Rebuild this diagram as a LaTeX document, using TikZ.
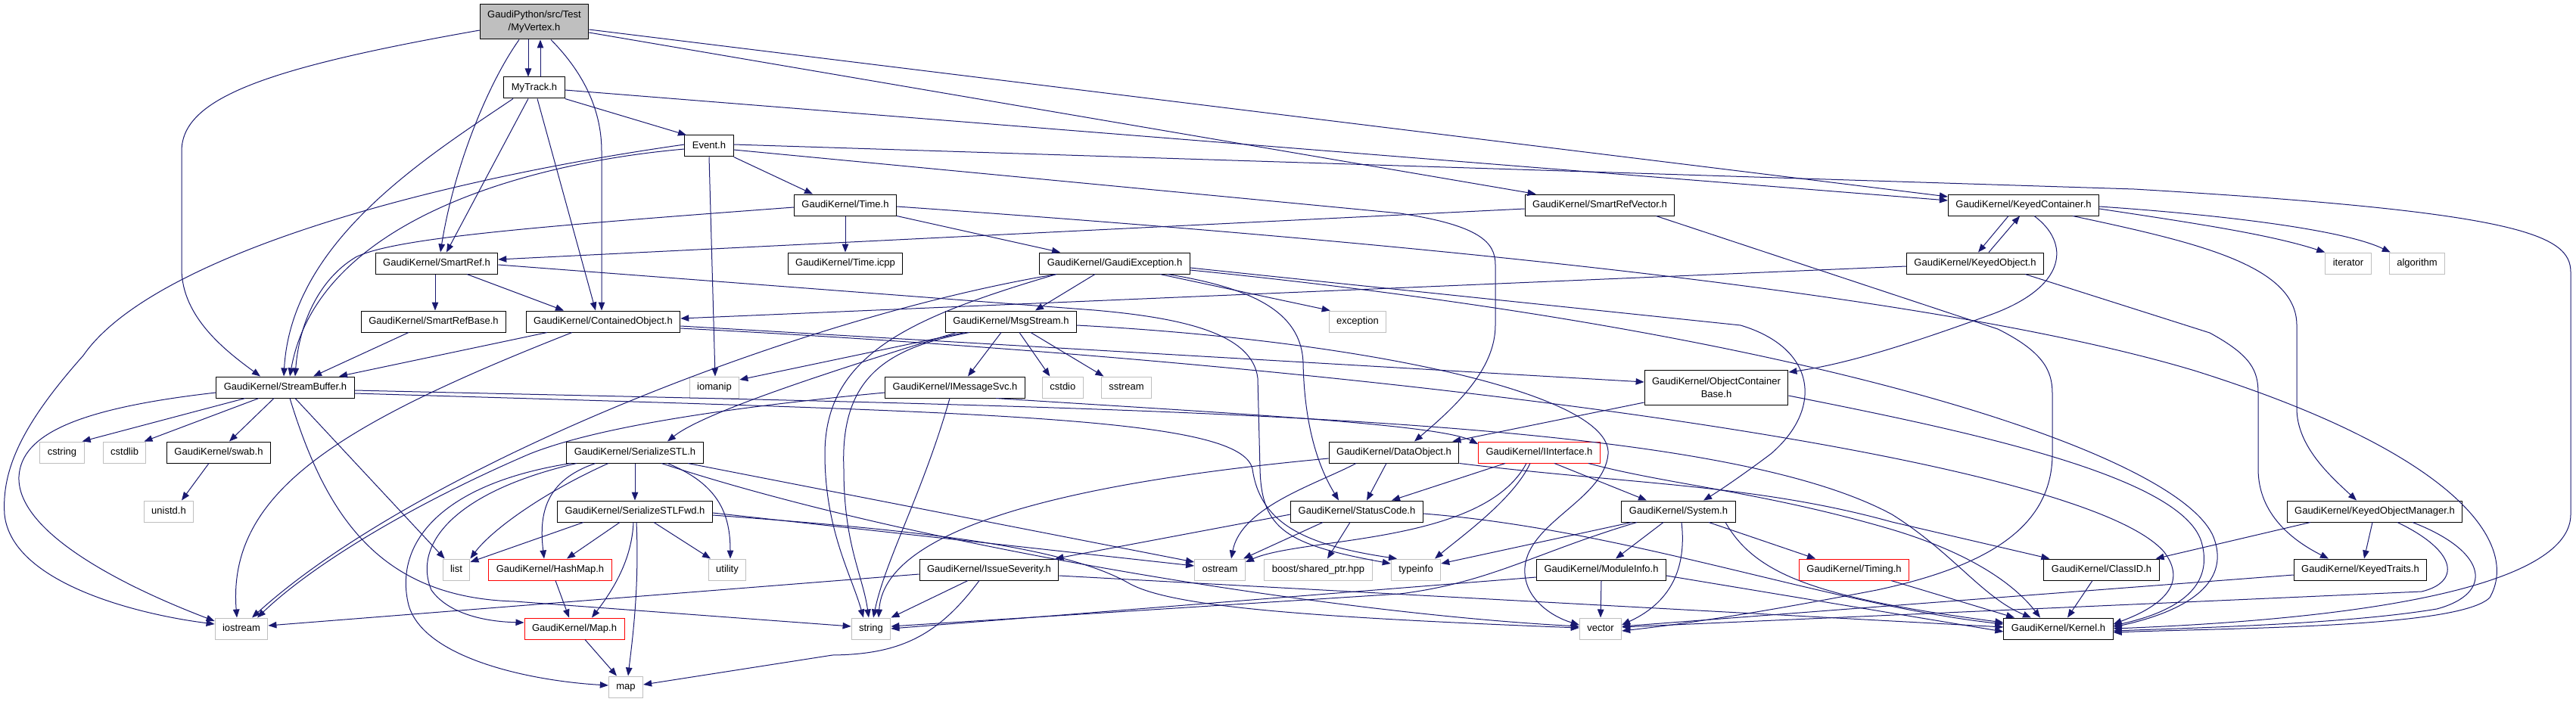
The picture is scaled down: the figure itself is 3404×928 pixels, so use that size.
\documentclass[tikz,border=0pt]{standalone}
\usepackage{fontspec}
\setmainfont{Liberation Sans}
\usepackage{tikz}
\usetikzlibrary{arrows.meta,positioning}
\definecolor{edgeblue}{HTML}{191970}
\definecolor{rootgray}{HTML}{BFBFBF}
\definecolor{sysgray}{HTML}{BFBFBF}

\begin{document}
\begin{tikzpicture}[
    x=1pt, y=-1pt,
    hdr/.style={draw=black, fill=white, line width=1pt, inner xsep=10pt, inner ysep=0pt,
      minimum height=28pt, text height=9.5pt, text depth=2.5pt, font=\fontsize{13}{17}\selectfont},
    twoline/.style={hdr, align=center, minimum height=46pt, text height=, text depth=},
    stdhdr/.style={hdr, draw=sysgray},
    trunc/.style={hdr, draw=red},
    arr/.style={-{Triangle[length=11pt,width=8.5pt]}, draw=edgeblue, line width=1pt}
  ]
    \useasboundingbox (0,0) rectangle (3404,928);

    \node[twoline, fill=rootgray] (vtx) at (706,29) {GaudiPython/src/Test\\/MyVertex.h};
    \node[hdr] (trk) at (706,116) {MyTrack.h};
    \node[hdr] (evt) at (937,193) {Event.h};

    \node[hdr] (time) at (1117,271) {GaudiKernel/Time.h};
    \node[hdr] (srvec) at (2114,271) {GaudiKernel/SmartRefVector.h};
    \node[hdr] (kcont) at (2674,271) {GaudiKernel/KeyedContainer.h};

    \node[hdr] (sref) at (577,348) {GaudiKernel/SmartRef.h};
    \node[hdr] (ticpp) at (1117,348) {GaudiKernel/Time.icpp};
    \node[hdr] (gexc) at (1473,348) {GaudiKernel/GaudiException.h};
    \node[hdr] (kobj) at (2610,348) {GaudiKernel/KeyedObject.h};
    \node[stdhdr] (iter) at (3103,348) {iterator};
    \node[stdhdr, right=23pt of iter] (algo) {algorithm};

    \node[hdr] (srbase) at (573,425) {GaudiKernel/SmartRefBase.h};
    \node[hdr] (cobj) at (797,425) {GaudiKernel/ContainedObject.h};
    \node[hdr] (msg) at (1336,425) {GaudiKernel/MsgStream.h};
    \node[stdhdr] (exc) at (1794,425) {exception};
    \node[twoline] (ocb) at (2268,512) {GaudiKernel/ObjectContainer\\Base.h};

    \node[hdr] (sbuf) at (377,512) {GaudiKernel/StreamBuffer.h};
    \node[stdhdr] (iomanip) at (944,512) {iomanip};
    \node[hdr] (imsg) at (1262,512) {GaudiKernel/IMessageSvc.h};
    \node[stdhdr, right=22pt of imsg] (cstdio) {cstdio};
    \node[stdhdr, right=23pt of cstdio] (sstream) {sstream};

    \node[stdhdr] (cstring) at (82,598) {cstring};
    \node[stdhdr, right=24pt of cstring] (cstdlib) {cstdlib};
    \node[hdr] (swab) at (289,598) {GaudiKernel/swab.h};
    \node[hdr] (sstl) at (839,598) {GaudiKernel/SerializeSTL.h};
    \node[hdr] (dobj) at (1842,598) {GaudiKernel/DataObject.h};
    \node[trunc] (iif) at (2034,598) {GaudiKernel/IInterface.h};

    \node[stdhdr] (unistd) at (223,676) {unistd.h};
    \node[hdr] (sfwd) at (839,676) {GaudiKernel/SerializeSTLFwd.h};
    \node[hdr] (scode) at (1793,676) {GaudiKernel/StatusCode.h};
    \node[hdr] (system) at (2218,676) {GaudiKernel/System.h};
    \node[hdr] (kom) at (3138,676) {GaudiKernel/KeyedObjectManager.h};

    \node[stdhdr] (list) at (603,753) {list};
    \node[trunc] (hmap) at (727,753) {GaudiKernel/HashMap.h};
    \node[stdhdr] (util) at (961,753) {utility};
    \node[hdr] (isev) at (1307,753) {GaudiKernel/IssueSeverity.h};
    \node[stdhdr] (ostream) at (1612,753) {ostream};
    \node[stdhdr] (boost) at (1742,753) {boost/shared\_ptr.hpp};
    \node[stdhdr] (tinfo) at (1871,753) {typeinfo};
    \node[hdr] (minfo) at (2116,753) {GaudiKernel/ModuleInfo.h};
    \node[trunc] (timing) at (2450,753) {GaudiKernel/Timing.h};
    \node[hdr] (clid) at (2777,753) {GaudiKernel/ClassID.h};
    \node[hdr] (ktr) at (3119,753) {GaudiKernel/KeyedTraits.h};

    \node[stdhdr] (iostream) at (319,831) {iostream};
    \node[trunc] (maph) at (759,831) {GaudiKernel/Map.h};
    \node[stdhdr] (string) at (1151,831) {string};
    \node[stdhdr] (vector) at (2115,831) {vector};
    \node[hdr] (kernel) at (2720,831) {GaudiKernel/Kernel.h};

    \node[stdhdr] (map) at (827,908) {map};

    \draw[arr] ([xshift=-8pt]vtx.south) -- ([xshift=-8pt]trk.north);
    \draw[arr] ([yshift=-11pt]vtx.west) .. controls (350,90) and (240,130) .. (240,200) -- (240,355) .. controls (240,420) and (300,465) .. ([xshift=-33pt]sbuf.north);
    \draw[arr] ([xshift=-20pt]vtx.south) .. controls (645,110) and (600,220) .. ([xshift=5pt]sref.north);
    \draw[arr] ([xshift=22pt]vtx.south) .. controls (775,100) and (795,150) .. (795,200) -- ([xshift=-2pt]cobj.north);
    \draw[arr] ([yshift=-10pt]vtx.east) -- ([yshift=11pt]kcont.west);
    \draw[arr] ([yshift=-14pt]vtx.east) -- ([xshift=15pt]srvec.north west);

    \draw[arr] ([xshift=8pt]trk.north) -- ([xshift=8pt]vtx.south);
    \draw[arr] ([xshift=-28pt]trk.south) .. controls (560,210) and (385,320) .. ([xshift=-2pt]sbuf.north);
    \draw[arr] ([xshift=-8pt]trk.south) -- ([xshift=13pt]sref.north);
    \draw[arr] ([xshift=4pt]trk.south) -- ([xshift=-10pt]cobj.north);
    \draw[arr] (trk.south east) -- ([xshift=-30pt]evt.north);
    \draw[arr] ([yshift=-3pt]trk.east) -- ([yshift=6pt]kcont.west);

    \draw[arr] (evt.south east) -- ([xshift=-43pt]time.north);
    \draw[arr] ([yshift=-4pt]evt.west) .. controls (700,215) and (420,290) .. ([xshift=6pt]sbuf.north);
    \draw[arr] ([yshift=2pt]evt.west) .. controls (560,240) and (200,340) .. (110,470) .. controls (30,560) and (2,620) .. (6,680) .. controls (15,770) and (180,812) .. ([yshift=6pt]iostream.west);
    \draw[arr] (evt.south) -- ([xshift=1pt]iomanip.north);
    \draw[arr] ([yshift=-5pt]evt.east) -- (1850,282) .. controls (1955,298) and (1976,320) .. (1976,350) -- (1976,430) .. controls (1976,490) and (1920,540) .. ([xshift=27pt]dobj.north);
    \draw[arr] ([yshift=2pt]evt.east) -- (2820,250) .. controls (3330,280) and (3397,310) .. (3397,360) -- (3397,680) .. controls (3397,760) and (3200,815) .. (kernel.east);

    \draw[arr] (time.south) -- (ticpp.north);
    \draw[arr] (time.south east) -- ([xshift=-72pt]gexc.north);
    \draw[arr] ([yshift=-3pt]time.west) .. controls (700,300) and (520,315) .. (470,340) .. controls (420,370) and (395,430) .. ([xshift=13pt]sbuf.north);
    \draw[arr] ([yshift=-2pt]time.east) .. controls (2000,330) and (2600,400) .. (2900,490) .. controls (3250,600) and (3330,720) .. (3290,790) .. controls (3250,830) and (2950,830) .. ([yshift=-5pt]kernel.east);

    \draw[arr] ([yshift=-5pt]srvec.west) -- ([yshift=5pt]sref.east);
    \draw[arr] ([xshift=-25pt]srvec.south east) -- (2640,435) .. controls (2700,465) and (2712,490) .. (2712,520) -- (2712,600) .. controls (2712,700) and (2620,750) .. (2480,780) .. controls (2350,805) and (2250,822) .. ([yshift=-3pt]vector.east);

    \draw[arr] ([xshift=-20pt]kcont.south) -- ([xshift=4pt]kobj.north);
    \draw[arr] ([yshift=-5pt]kcont.east) .. controls (2900,295) and (3000,310) .. (iter.north west);
    \draw[arr] ([yshift=-2pt]kcont.east) .. controls (2950,285) and (3100,305) .. ([xshift=2pt]algo.north west);
    \draw[arr] ([xshift=14pt]kcont.south) .. controls (2735,320) and (2735,380) .. (2625,418) .. controls (2550,445) and (2450,480) .. ([yshift=20pt]ocb.east);
    \draw[arr] ([xshift=65pt]kcont.south) .. controls (2900,320) and (3035,350) .. (3035,430) -- (3035,540) .. controls (3035,590) and (3080,630) .. ([xshift=-24pt]kom.north);

    \draw[arr] ([xshift=18pt]kobj.north) -- ([xshift=-5pt]kcont.south);
    \draw[arr] ([yshift=-4pt]kobj.west) -- ([yshift=4pt]cobj.east);
    \draw[arr] ([xshift=-25pt]kobj.south east) -- (2920,440) .. controls (2975,470) and (2984,490) .. (2984,520) -- (2984,620) .. controls (2984,680) and (3030,715) .. ([xshift=-42pt]ktr.north);

    \draw[arr] ([xshift=-2pt]sref.south) -- ([xshift=2pt]srbase.north);
    \draw[arr] ([xshift=40pt]sref.south) -- ([xshift=-52pt]cobj.north);
    \draw[arr] ([yshift=-2pt]sref.east) -- (1446,410) .. controls (1560,420) and (1655,440) .. (1662,500) -- (1665,620) .. controls (1667,700) and (1700,720) .. ([yshift=8pt]tinfo.west);

    \draw[arr] ([xshift=-33pt]srbase.south) -- ([xshift=37pt]sbuf.north);

    \draw[arr] ([xshift=-74pt]cobj.south) -- ([xshift=71pt]sbuf.north);
    \draw[arr] ([xshift=-41pt]cobj.south) .. controls (450,560) and (300,650) .. ([xshift=-6pt]iostream.north);
    \draw[arr] ([yshift=-6pt]cobj.east) -- ([yshift=7pt]ocb.west);
    \draw[arr] ([yshift=-9pt]cobj.east) .. controls (1800,480) and (2750,600) .. (2860,730) .. controls (2890,770) and (2860,800) .. ([yshift=6pt]kernel.east);

    \draw[arr] ([xshift=-26pt]gexc.south) -- ([xshift=32pt]msg.north);
    \draw[arr] ([xshift=-40pt]gexc.south east) -- ([xshift=2pt]exc.north west);
    \draw[arr] ([xshift=-77pt]gexc.south) .. controls (1200,420) and (1090,470) .. (1090,600) .. controls (1090,700) and (1125,760) .. ([xshift=-10pt]string.north);
    \draw[arr] ([xshift=-77pt]gexc.south) .. controls (1050,420) and (550,620) .. ([xshift=14pt]iostream.north);
    \draw[arr] ([xshift=-30pt]gexc.south east) .. controls (1650,380) and (1720,410) .. (1722,480) .. controls (1724,580) and (1750,630) .. ([xshift=-24pt]scode.north);
    \draw[arr] ([yshift=-6pt]gexc.east) -- (2300,430) .. controls (2400,460) and (2410,540) .. (2340,600) .. controls (2300,630) and (2270,650) .. ([xshift=33pt]system.north);
    \draw[arr] ([yshift=-9pt]gexc.east) .. controls (2400,440) and (2880,600) .. (2925,710) .. controls (2950,775) and (2880,810) .. ([yshift=2pt]kernel.east);

    \draw[arr] ([xshift=-13pt]msg.south) -- ([xshift=17pt]imsg.north);
    \draw[arr] ([xshift=11pt]msg.south) -- ([xshift=-17pt]cstdio.north);
    \draw[arr] ([xshift=26pt]msg.south) -- ([xshift=-30pt]sstream.north);
    \draw[arr] ([xshift=-61pt]msg.south) -- ([yshift=10pt]iomanip.east);
    \draw[arr] ([xshift=-72pt]msg.south) .. controls (1100,490) and (930,545) .. ([xshift=43pt]sstl.north);
    \draw[arr] ([xshift=-55pt]msg.south) .. controls (1170,460) and (1110,500) .. (1115,620) .. controls (1115,720) and (1140,760) .. ([xshift=-3pt]string.north);
    \draw[arr] ([yshift=-5pt]msg.east) .. controls (1800,450) and (2130,520) .. (2125,600) .. controls (2120,660) and (2020,690) .. (2015,750) .. controls (2012,790) and (2050,815) .. ([yshift=5pt]vector.west);

    \draw[arr] ([yshift=-20pt]ocb.west) -- ([xshift=-9pt]dobj.north east);
    \draw[arr] ([yshift=-11pt]ocb.east) .. controls (2600,570) and (2890,630) .. (2910,720) .. controls (2925,780) and (2870,810) .. ([yshift=4pt]kernel.east);

    \draw[arr] ([xshift=-53pt]sbuf.south) -- ([xshift=-3pt]cstring.north east);
    \draw[arr] ([xshift=-35pt]sbuf.south) -- ([xshift=-3pt]cstdlib.north east);
    \draw[arr] ([xshift=-15pt]sbuf.south) -- ([xshift=14pt]swab.north);
    \draw[arr] ([yshift=-7pt]sbuf.west) .. controls (100,540) and (28,575) .. (25,630) .. controls (22,700) and (150,770) .. ([yshift=10pt]iostream.west);
    \draw[arr] ([xshift=13pt]sbuf.south) -- ([xshift=3pt]list.north west);
    \draw[arr] ([xshift=6pt]sbuf.south) .. controls (430,680) and (500,790) .. (680,795) -- ([yshift=3pt]string.west);
    \draw[arr] ([yshift=-8pt]sbuf.east) .. controls (1300,545) and (1640,550) .. (1655,620) .. controls (1665,690) and (1720,720) .. ([xshift=-25pt]tinfo.north);
    \draw[arr] ([yshift=-4pt]sbuf.east) .. controls (1500,540) and (2250,545) .. (2500,680) .. controls (2580,730) and (2620,790) .. ([xshift=-36pt]kernel.north);

    \draw[arr] ([xshift=-13pt]swab.south) -- ([xshift=17pt]unistd.north);

    \draw[arr] ([xshift=54pt]imsg.south) .. controls (1600,545) and (1900,560) .. ([yshift=11pt]iif.west);
    \draw[arr] ([xshift=-7pt]imsg.south) .. controls (1220,650) and (1170,740) .. ([xshift=3pt]string.north);
    \draw[arr] ([yshift=-7pt]imsg.west) .. controls (1000,535) and (800,560) .. (700,600) .. controls (560,660) and (420,740) .. ([xshift=21pt]iostream.north);

    \draw[arr] (sstl.south) -- (sfwd.north);
    \draw[arr] ([xshift=-35pt]sstl.south) .. controls (720,650) and (650,700) .. (list.north east);
    \draw[arr] ([xshift=-52pt]sstl.south) .. controls (720,635) and (712,680) .. ([xshift=-8pt]hmap.north);
    \draw[arr] ([xshift=-77pt]sstl.south) .. controls (600,650) and (545,720) .. (570,780) .. controls (595,815) and (650,822) .. ([yshift=8pt]maph.west);
    \draw[arr] ([xshift=-85pt]sstl.south) .. controls (580,640) and (520,720) .. (540,800) .. controls (560,870) and (700,900) .. ([yshift=2pt]map.west);
    \draw[arr] ([xshift=43pt]sstl.south) .. controls (950,640) and (965,680) .. ([xshift=4pt]util.north);
    \draw[arr] ([xshift=70pt]sstl.south) -- ([yshift=10pt]ostream.west);
    \draw[arr] ([xshift=35pt]sstl.south) .. controls (1200,720) and (1750,810) .. ([yshift=3pt]vector.west);

    \draw[arr] ([xshift=-68pt]sfwd.south) -- ([yshift=10pt]list.east);
    \draw[arr] ([xshift=-20pt]sfwd.south) -- ([xshift=22pt]hmap.north);
    \draw[arr] ([xshift=-2pt]sfwd.south) .. controls (835,740) and (810,780) .. ([xshift=23pt]maph.north);
    \draw[arr] ([xshift=2pt]sfwd.south) .. controls (845,780) and (835,850) .. ([xshift=3pt]map.north);
    \draw[arr] ([xshift=25pt]sfwd.south) -- ([xshift=-22pt]util.north);
    \draw[arr] ([yshift=-2pt]sfwd.east) -- ([yshift=5pt]ostream.west);
    \draw[arr] ([yshift=-5pt]sfwd.east) .. controls (1200,700) and (1400,720) .. (1490,770) .. controls (1540,800) and (1700,815) .. ([yshift=1pt]vector.west);

    \draw[arr] ([xshift=7pt]hmap.south) -- ([xshift=-7pt]maph.north);
    \draw[arr] ([xshift=14pt]maph.south) -- ([xshift=-12pt]map.north);

    \draw[arr] ([xshift=-10pt]dobj.south) -- ([xshift=13pt]scode.north);
    \draw[arr] ([yshift=-8pt]dobj.west) .. controls (1500,630) and (1170,680) .. ([xshift=10pt]string.north);
    \draw[arr] ([xshift=-50pt]dobj.south) .. controls (1740,640) and (1640,670) .. ([xshift=15pt]ostream.north);
    \draw[arr] (dobj.south east) .. controls (2150,640) and (2320,640) .. (2500,690) -- ([xshift=8pt]clid.north west);

    \draw[arr] ([xshift=-45pt]iif.south) -- ([xshift=46pt]scode.north);
    \draw[arr] ([xshift=-12pt]iif.south) .. controls (2000,660) and (1930,710) .. ([xshift=25pt]tinfo.north);
    \draw[arr] ([xshift=-17pt]iif.south) .. controls (1960,720) and (1720,710) .. ([yshift=10pt]ostream.east);
    \draw[arr] ([xshift=20pt]iif.south) -- ([xshift=-42pt]system.north);
    \draw[arr] ([xshift=65pt]iif.south) .. controls (2200,640) and (2330,650) .. (2500,700) .. controls (2600,730) and (2660,770) .. ([xshift=-24pt]kernel.north);

    \draw[arr] ([xshift=-9pt]scode.south) -- ([xshift=12pt]boost.north);
    \draw[arr] ([xshift=-45pt]scode.south) -- ([xshift=-3pt]ostream.north east);
    \draw[arr] ([yshift=-4pt]scode.west) -- ([xshift=-5pt]isev.north east);
    \draw[arr] ([yshift=-3pt]scode.east) .. controls (2150,700) and (2420,800) .. ([yshift=6pt]kernel.west);

    \draw[arr] ([xshift=-62pt]system.south) -- ([yshift=8pt]tinfo.east);
    \draw[arr] ([xshift=-55pt]system.south) .. controls (2030,730) and (1970,770) .. (1850,785) -- ([yshift=3pt]string.east);
    \draw[arr] ([xshift=-20pt]system.south) -- ([xshift=19pt]minfo.north);
    \draw[arr] ([xshift=4pt]system.south) .. controls (2230,760) and (2200,800) .. ([yshift=5pt]vector.east);
    \draw[arr] ([xshift=40pt]system.south) -- ([xshift=-51pt]timing.north);
    \draw[arr] ([xshift=62pt]system.south) .. controls (2320,760) and (2400,790) .. ([yshift=8pt]kernel.west);

    \draw[arr] ([xshift=-85pt]kom.south) -- ([xshift=-5pt]clid.north east);
    \draw[arr] ([xshift=-3pt]kom.south) -- ([xshift=5pt]ktr.north);
    \draw[arr] ([xshift=30pt]kom.south) .. controls (3250,730) and (3250,770) .. (3200,782) -- ([yshift=2pt]vector.east);
    \draw[arr] ([xshift=50pt]kom.south) .. controls (3290,730) and (3295,785) .. (3220,805) .. controls (3100,825) and (2900,830) .. ([yshift=-3pt]kernel.east);

    \draw[arr] ([yshift=-7pt]ktr.west) -- ([yshift=3pt]vector.east);
    \draw[arr] ([xshift=-12pt]clid.south) -- ([xshift=12pt]kernel.north);
    \draw[arr] ([xshift=49pt]timing.south) -- ([xshift=-58pt]kernel.north);

    \draw[arr] (minfo.south) -- (vector.north);
    \draw[arr] ([yshift=-10pt]minfo.west) -- (string.east);
    \draw[arr] ([yshift=-8pt]minfo.east) -- ([yshift=-4pt]kernel.west);

    \draw[arr] ([xshift=-28pt]isev.south) -- (string.north east);
    \draw[arr] ([xshift=-13pt]isev.south) .. controls (1240,840) and (1190,865) .. (1100,866) -- ([yshift=3pt]map.east);
    \draw[arr] ([yshift=-6pt]isev.west) -- ([yshift=4pt]iostream.east);
    \draw[arr] ([yshift=-8pt]isev.east) -- ([yshift=2pt]kernel.west);
\end{tikzpicture}
\end{document}
